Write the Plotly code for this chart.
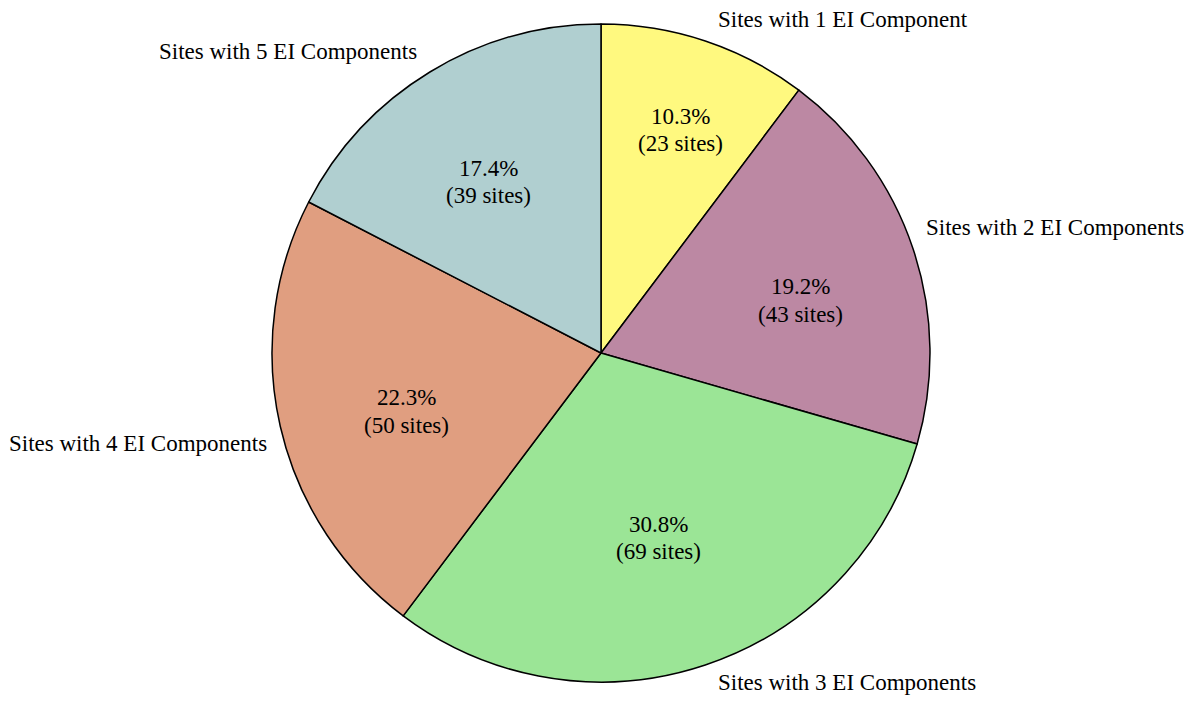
import math
import plotly.graph_objects as go

labels = ["Sites with 1 EI Component", "Sites with 2 EI Components",
          "Sites with 3 EI Components", "Sites with 4 EI Components",
          "Sites with 5 EI Components"]
sites = [23, 43, 69, 50, 39]
colors = ["#fff97f", "#bc88a3", "#9be596", "#e09e80", "#b0cfd0"]

W, H = 1195, 702
cx, cy, r = 593, 345, 329
dom = dict(x=[(cx - r) / W, (cx + r) / W], y=[1 - (cy + r) / H, 1 - (cy - r) / H])
font = "Liberation Serif, Times New Roman, serif"
FS = 23

fig = go.Figure()
fig.add_trace(go.Pie(
    labels=labels, values=sites, sort=False, direction="clockwise", rotation=0,
    marker=dict(colors=colors, line=dict(color="black", width=1.5)),
    textinfo="none", domain=dom, showlegend=False,
    hoverinfo="label+value+percent",
))


def to_paper(px, py):
    return px / W, 1 - py / H


total = sum(sites)
cum = 0
anns = []
for lab, v in zip(labels, sites):
    frac = v / total
    half = math.pi * frac
    mid = 2 * math.pi * cum + half
    cum += frac
    ux, uy = math.sin(mid), -math.cos(mid)
    # inside text: centre of the inscribed circle of the wedge
    s = math.sin(min(half, math.pi / 2))
    rins = s / (1 + s)
    R = r * (1 - rins)
    tx, ty = cx + R * ux, cy + R * uy + 14
    for k, txt in enumerate([f"{frac * 100:.1f}%", f"({v} sites)"]):
        x, y = to_paper(tx, ty + (k - 0.5) * 27.5)
        anns.append(dict(x=x, y=y, xref="paper", yref="paper", text=txt,
                         showarrow=False, xanchor="center", yanchor="middle",
                         font=dict(family=font, size=FS, color="black")))
    # outside label
    ex, ey = cx + r * ux, cy + r * uy
    x, y = to_paper(ex, ey)
    anns.append(dict(x=x, y=y, xref="paper", yref="paper", text=lab,
                     showarrow=False,
                     xanchor="left" if ux > 0 else "right", yanchor="middle",
                     xshift=11 if ux > 0 else -11,
                     yshift=-17 if uy > 0 else 21,
                     font=dict(family=font, size=FS, color="black")))

fig.update_layout(width=W, height=H, margin=dict(l=0, r=0, t=0, b=0),
                  paper_bgcolor="white", plot_bgcolor="white", showlegend=False,
                  annotations=anns)
fig.write_html("out.html")
